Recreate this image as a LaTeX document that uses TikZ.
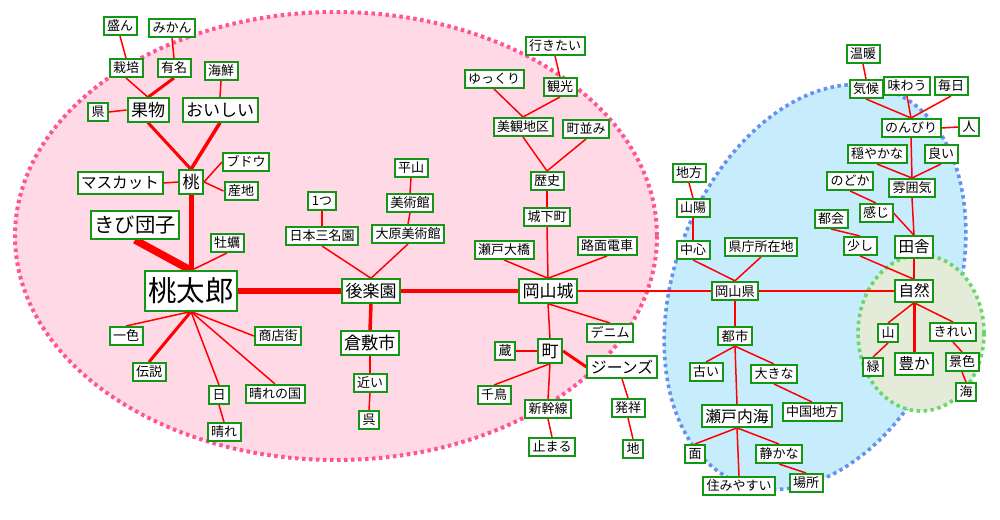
\documentclass[tikz,border=0pt]{standalone}
\usepackage{fontspec}
\setmainfont{Noto Sans CJK JP}
\pgfdeclarelayer{bg}
\pgfdeclarelayer{edges}
\pgfsetlayers{bg,edges,main}
\definecolor{boxgreen}{RGB}{22,150,22}
\definecolor{pinkfill}{RGB}{255,218,230}
\definecolor{pinkdot}{RGB}{255,85,150}
\definecolor{bluefill}{RGB}{199,237,252}
\definecolor{bluedot}{RGB}{100,145,240}
\definecolor{greenfill}{RGB}{228,235,217}
\definecolor{greendot}{RGB}{105,215,105}
\tikzset{
  nb/.style={draw=boxgreen, line width=2pt, fill=white, inner xsep=3.5pt,
    inner ysep={2.5pt+(#1-13)*0.18pt}, font=\fontsize{#1}{#1}\selectfont,
    text height={0.88*#1 pt}, text depth={0.12*#1 pt}},
  nb/.default=13,
  e/.style={draw=red, line width=#1},
  e/.default=1.5pt,
  dotline/.style={line width=4pt, dash pattern=on 3.5pt off 3.5pt}
}
\begin{document}
\begin{tikzpicture}[x=1pt,y=-1pt]
\useasboundingbox (0,0) rectangle (1000,519);
\begin{pgfonlayer}{bg}
\fill[pinkfill] (336,236) ellipse [x radius=321, y radius=224];
\draw[pinkdot, dotline] (336,236) ellipse [x radius=321, y radius=224];
\fill[bluefill, rotate around={69:(815,287)}] (815,287) ellipse [x radius=210, y radius=140];
\draw[bluedot, dotline, line width=3.6pt, rotate around={69:(815,287)}] (815,287) ellipse [x radius=210, y radius=140];
\fill[greenfill] (921,333) ellipse [x radius=63, y radius=78];
\draw[greendot, dotline, line width=3.6pt] (921,333) ellipse [x radius=63, y radius=78];
\end{pgfonlayer}
% left cluster
\node[nb] (sakan) at (120,26) {盛ん};
\node[nb] (mikan) at (172,28) {みかん};
\node[nb] (saibai) at (126,68) {栽培};
\node[nb] (yumei) at (174,68) {有名};
\node[nb] (kaisen) at (221,71) {海鮮};
\node[nb] (ken) at (98,112) {県};
\node[nb=17] (kudamono) at (148,110) {果物};
\node[nb=17] (oishii) at (220,110) {おいしい};
\node[nb] (budou) at (246,162) {ブドウ};
\node[nb] (sanchi) at (241,191) {産地};
\node[nb=15.6] (muscat) at (120,183) {マスカット};
\node[nb=17] (momo) at (191,182) {桃};
\node[nb=20.3] (kibi) at (135,225) {きび団子};
\node[nb] (kaki) at (227,243) {牡蠣};
\node[nb] (hitotsu) at (322,201) {1つ};
\node[nb=28.5] (momotaro) at (191,291) {桃太郎};
\node[nb] (isshoku) at (126,336) {一色};
\node[nb] (densetsu) at (149,372) {伝説};
\node[nb] (shotengai) at (278,336) {商店街};
\node[nb] (hi) at (219,395) {日};
\node[nb] (harenokuni) at (275,394) {晴れの国};
\node[nb] (hare) at (224,432) {晴れ};
\node[nb] (hirayama) at (411,168) {平山};
\node[nb] (bijutsukan) at (410,203) {美術館};
\node[nb] (nihon) at (322,236) {日本三名園};
\node[nb] (ohara) at (408,234) {大原美術館};
\node[nb=17] (korakuen) at (371,291) {後楽園};
\node[nb=17.3] (kurashiki) at (370,343) {倉敷市};
\node[nb] (chikai) at (370,383) {近い};
\node[nb] (kure) at (369,420) {呉};
% middle
\node[nb] (ikitai) at (555,46) {行きたい};
\node[nb] (yukkuri) at (494,79) {ゆっくり};
\node[nb] (kanko) at (560,87) {観光};
\node[nb] (bikan) at (523,127) {美観地区};
\node[nb] (machinami) at (586,129) {町並み};
\node[nb] (rekishi) at (547,181) {歴史};
\node[nb] (jokamachi) at (547,217) {城下町};
\node[nb] (ohashi) at (504,250) {瀬戸大橋};
\node[nb] (romen) at (607,246) {路面電車};
\node[nb=17] (okayamajo) at (548,291) {岡山城};
\node[nb] (denim) at (610,333) {デニム};
\node[nb] (kura) at (505,351) {蔵};
\node[nb=17] (machi) at (550,351) {町};
\node[nb=15.8] (jeans) at (622,367) {ジーンズ};
\node[nb] (chidori) at (494,395) {千鳥};
\node[nb] (shinkansen) at (548,409) {新幹線};
\node[nb] (hassho) at (628,408) {発祥};
\node[nb] (tomaru) at (552,447) {止まる};
\node[nb] (chi) at (633,449) {地};
% blue cluster
\node[nb] (chiho) at (689,173) {地方};
\node[nb] (sanyo) at (693,208) {山陽};
\node[nb] (chushin) at (693,250) {中心};
\node[nb] (kencho) at (761,247) {県庁所在地};
\node[nb=13.3] (okayamaken) at (735,291) {岡山県};
\node[nb=13.3] (toshi) at (735,336) {都市};
\node[nb] (furui) at (706,372) {古い};
\node[nb] (okina) at (774,374) {大きな};
\node[nb] (chugoku) at (812,412) {中国地方};
\node[nb=15.8] (setonaikai) at (737,416) {瀬戸内海};
\node[nb] (men) at (695,454) {面};
\node[nb] (shizuka) at (779,454) {静かな};
\node[nb] (sumiyasui) at (739,486) {住みやすい};
\node[nb] (basho) at (806,483) {場所};
\node[nb] (ondan) at (863,54) {温暖};
\node[nb] (kiko) at (866,89) {気候};
\node[nb] (ajiwau) at (907,86) {味わう};
\node[nb] (mainichi) at (951,86) {毎日};
\node[nb] (nonbiri) at (911,128) {のんびり};
\node[nb] (hito) at (969,127) {人};
\node[nb] (odayaka) at (877,154) {穏やかな};
\node[nb] (yoi) at (941,154) {良い};
\node[nb] (nodoka) at (850,181) {のどか};
\node[nb] (funiki) at (912,188) {雰囲気};
\node[nb] (kanji) at (876,213) {感じ};
\node[nb] (tokai) at (831,219) {都会};
\node[nb] (sukoshi) at (860,246) {少し};
\node[nb=15.5] (inaka) at (914,247) {田舎};
\node[nb=15.5] (shizen) at (914,291) {自然};
\node[nb] (yama) at (888,333) {山};
\node[nb] (kirei) at (953,332) {きれい};
\node[nb] (midori) at (873,367) {緑};
\node[nb=15.5] (yutaka) at (914,364) {豊か};
\node[nb] (keshiki) at (962,362) {景色};
\node[nb] (umi) at (966,392) {海};
\begin{pgfonlayer}{edges}
\draw[e] (sakan.south) -- (saibai.north);
\draw[e] (mikan.south) -- (yumei.north);
\draw[e] (saibai.south) -- (kudamono.north);
\draw[e=3pt] (yumei.south) -- (kudamono.north);
\draw[e] (ken.east) -- (kudamono.west);
\draw[e] (kaisen.south) -- (oishii.north);
\draw[e=3pt] (kudamono.south) -- (momo.north);
\draw[e=3.5pt] (oishii.south) -- (momo.north);
\draw[e] (muscat.east) -- (momo.west);
\draw[e] (momo.east) -- (budou.west);
\draw[e] (momo.east) -- (sanchi.west);
\draw[e=5pt] (momo.south) -- (momotaro.north);
\draw[e=7.5pt] (kibi.south) -- (momotaro.north);
\draw[e] (kaki.south) -- (momotaro.north);
\draw[e] (momotaro.south) -- (isshoku.north);
\draw[e=3pt] (momotaro.south) -- (densetsu.north);
\draw[e] (momotaro.south) -- (hi.north);
\draw[e] (momotaro.south) -- (harenokuni.north);
\draw[e] (momotaro.south) -- (shotengai.west);
\draw[e] (hi.south) -- (hare.north);
\draw[e=5.5pt] (momotaro.east) -- (korakuen.west);
\draw[e] (hitotsu.south) -- (nihon.north);
\draw[e] (hirayama.south) -- (bijutsukan.north);
\draw[e] (bijutsukan.south) -- (ohara.north);
\draw[e] (nihon.south) -- (korakuen.north);
\draw[e] (ohara.south) -- (korakuen.north);
\draw[e=3.5pt] (korakuen.south) -- (kurashiki.north);
\draw[e] (kurashiki.south) -- (chikai.north);
\draw[e] (chikai.south) -- (kure.north);
\draw[e=4pt] (korakuen.east) -- (okayamajo.west);
\draw[e] (ikitai.south) -- (kanko.north);
\draw[e] (yukkuri.south) -- (bikan.north);
\draw[e] (kanko.south) -- (bikan.north);
\draw[e] (bikan.south) -- (rekishi.north);
\draw[e] (machinami.south) -- (rekishi.north);
\draw[e] (rekishi.south) -- (jokamachi.north);
\draw[e] (jokamachi.south) -- (okayamajo.north);
\draw[e] (ohashi.south) -- (okayamajo.north);
\draw[e] (romen.south) -- (okayamajo.north);
\draw[e] (okayamajo.south) -- (denim.north);
\draw[e] (okayamajo.south) -- (machi.north);
\draw[e] (okayamajo.east) -- (okayamaken.west);
\draw[e] (kura.east) -- (machi.west);
\draw[e=3pt] (machi.east) -- (jeans.west);
\draw[e] (machi.south) -- (chidori.north);
\draw[e] (machi.south) -- (shinkansen.north);
\draw[e] (shinkansen.south) -- (tomaru.north);
\draw[e] (jeans.south) -- (hassho.north);
\draw[e] (hassho.south) -- (chi.north);
\draw[e] (chiho.south) -- (sanyo.north);
\draw[e] (sanyo.south) -- (chushin.north);
\draw[e] (chushin.south) -- (okayamaken.north);
\draw[e] (kencho.south) -- (okayamaken.north);
\draw[e] (okayamaken.south) -- (toshi.north);
\draw[e] (okayamaken.east) -- (shizen.west);
\draw[e] (toshi.south) -- (furui.north);
\draw[e] (toshi.south) -- (okina.north);
\draw[e] (toshi.south) -- (setonaikai.north);
\draw[e] (okina.south) -- (chugoku.north);
\draw[e] (setonaikai.south) -- (men.north);
\draw[e] (setonaikai.south) -- (shizuka.north);
\draw[e] (setonaikai.south) -- (sumiyasui.north);
\draw[e] (shizuka.south) -- (basho.north);
\draw[e] (ondan.south) -- (kiko.north);
\draw[e] (kiko.south) -- (nonbiri.north);
\draw[e] (ajiwau.south) -- (nonbiri.north);
\draw[e] (mainichi.south) -- (nonbiri.north);
\draw[e] (nonbiri.east) -- (hito.west);
\draw[e] (nonbiri.south) -- (funiki.north);
\draw[e] (odayaka.south) -- (funiki.north);
\draw[e] (yoi.south) -- (funiki.north);
\draw[e] (nodoka.south) -- (kanji.north);
\draw[e] (kanji.east) -- (inaka.north);
\draw[e] (funiki.south) -- (inaka.north);
\draw[e] (tokai.south) -- (sukoshi.north);
\draw[e] (sukoshi.south) -- (shizen.north);
\draw[e] (inaka.south) -- (shizen.north);
\draw[e] (shizen.south) -- (yama.north);
\draw[e=3pt] (shizen.south) -- (yutaka.north);
\draw[e] (shizen.south) -- (kirei.north);
\draw[e] (yama.south) -- (midori.north);
\draw[e] (kirei.south) -- (keshiki.north);
\draw[e] (keshiki.south) -- (umi.north);
\end{pgfonlayer}
\end{tikzpicture}
\end{document}
